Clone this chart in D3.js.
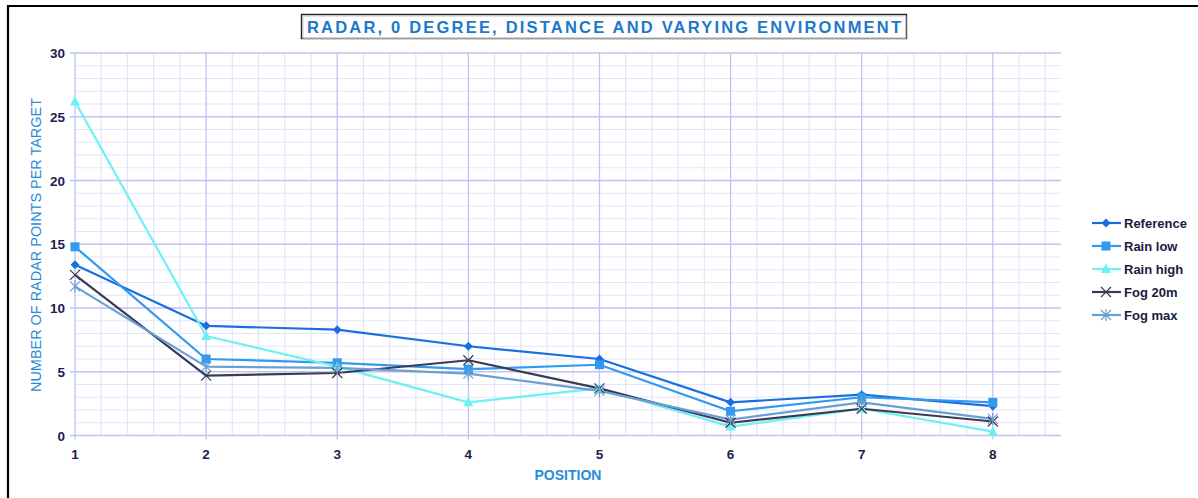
<!DOCTYPE html>
<html><head><meta charset="utf-8">
<script src="https://cdn.jsdelivr.net/npm/d3@7"></script>
<style>body{margin:0;background:#fff;} svg{display:block;font-family:"Liberation Sans",Arial,sans-serif;}</style>
</head><body><svg id="c" width="1198" height="498"></svg>
<script>
const positions = [1, 2, 3, 4, 5, 6, 7, 8];
const reference = [13.4, 8.6, 8.3, 7.0, 6.0, 2.6, 3.2, 2.3];
const rainLow   = [14.8, 6.0, 5.7, 5.2, 5.55, 1.9, 3.0, 2.6];
const rainHigh  = [26.2, 7.8, 5.4, 2.6, 3.7, 0.7, 2.1, 0.3];
const fog20m    = [12.6, 4.7, 4.9, 5.9, 3.7, 1.0, 2.1, 1.1];
const fogMax    = [11.7, 5.4, 5.3, 4.85, 3.5, 1.25, 2.6, 1.3];
const yTicks = [0, 5, 10, 15, 20, 25, 30];
const seriesNames = ["Reference", "Rain low", "Rain high", "Fog 20m", "Fog max"];

const series = [
  {name: seriesNames[0], values: reference, color: "#1a6fe0", marker: "diamond"},
  {name: seriesNames[1], values: rainLow,   color: "#3399ee", marker: "square"},
  {name: seriesNames[2], values: rainHigh,  color: "#6ef0f5", marker: "triangle"},
  {name: seriesNames[3], values: fog20m,    color: "#3a3a55", marker: "x"},
  {name: seriesNames[4], values: fogMax,    color: "#6a9fd4", marker: "star"}
];

const svg = d3.select("#c");
const x = d3.scaleLinear().domain([1, 8.52]).range([75, 1061]);
const y = d3.scaleLinear().domain([0, 30]).range([435.5, 53]);

// borders (top and left)
svg.append("line").attr("x1", 7).attr("x2", 1198).attr("y1", 6).attr("y2", 6).attr("stroke", "#000").attr("stroke-width", 2.2);
svg.append("line").attr("x1", 8).attr("x2", 8).attr("y1", 5).attr("y2", 498).attr("stroke", "#000").attr("stroke-width", 2.2);

const g = svg.append("g");
// minor grid
const minorX = d3.range(1, 8.5, 0.2).filter(v => Math.abs(v - Math.round(v)) > 1e-6);
g.selectAll(".mx").data(minorX).enter().append("line")
  .attr("x1", d => x(d)).attr("x2", d => x(d)).attr("y1", y(30)).attr("y2", y(0))
  .attr("stroke", "#e4e4fb").attr("stroke-width", 1.2);
const minorY = d3.range(0, 31, 1).filter(v => v % 5 !== 0);
g.selectAll(".my").data(minorY).enter().append("line")
  .attr("x1", x(1)).attr("x2", x(8.52)).attr("y1", d => y(d)).attr("y2", d => y(d))
  .attr("stroke", "#e4e4fb").attr("stroke-width", 1.2);
// major grid
g.selectAll(".Mx").data(positions).enter().append("line")
  .attr("x1", d => x(d)).attr("x2", d => x(d)).attr("y1", y(30)).attr("y2", y(0) + 4)
  .attr("stroke", "#c2c2f4").attr("stroke-width", 1.3);
g.selectAll(".My").data(yTicks).enter().append("line")
  .attr("x1", x(1) - 5).attr("x2", x(8.52)).attr("y1", d => y(d)).attr("y2", d => y(d))
  .attr("stroke", "#c2c2f4").attr("stroke-width", 1.3);

// tick labels
g.selectAll(".yl").data(yTicks).enter().append("text")
  .attr("x", 65).attr("y", d => y(d) + 5).attr("text-anchor", "end")
  .attr("font-size", 13.5).attr("font-weight", "bold").attr("fill", "#1c1c4e").text(d => d);
g.selectAll(".xl").data(positions).enter().append("text")
  .attr("x", d => x(d)).attr("y", 458.5).attr("text-anchor", "middle")
  .attr("font-size", 13.5).attr("font-weight", "bold").attr("fill", "#1c1c4e").text(d => d);

// axis titles
svg.append("text").attr("transform", "translate(41,245) rotate(-90)").attr("text-anchor", "middle")
  .attr("font-size", 14).attr("fill", "#2a8ad8").attr("textLength", 294).attr("lengthAdjust", "spacingAndGlyphs")
  .text("NUMBER OF RADAR  POINTS PER TARGET");
svg.append("text").attr("x", 568).attr("y", 480).attr("text-anchor", "middle")
  .attr("font-size", 14).attr("font-weight", "bold").attr("fill", "#2a8ad8")
  .attr("textLength", 67).attr("lengthAdjust", "spacingAndGlyphs").text("POSITION");

// title
svg.append("rect").attr("x", 301.5).attr("y", 14.5).attr("width", 605).attr("height", 24)
  .attr("fill", "#fff").attr("stroke", "#222").attr("stroke-width", 1.4);
svg.append("rect").attr("x", 303).attr("y", 16).attr("width", 603).attr("height", 22.5)
  .attr("fill", "none").attr("stroke", "#bbb").attr("stroke-width", 0.8);
svg.append("text").attr("x", 604).attr("y", 33).attr("text-anchor", "middle")
  .attr("font-size", 16.5).attr("font-weight", "bold").attr("fill", "#1e78c8")
  .attr("textLength", 594).attr("lengthAdjust", "spacing")
  .text("RADAR, 0 DEGREE, DISTANCE AND VARYING ENVIRONMENT");

function drawMarker(sel, type, color) {
  if (type === "diamond") {
    sel.append("path").attr("d", "M0,-4.5L4.5,0L0,4.5L-4.5,0Z").attr("fill", color);
  } else if (type === "square") {
    sel.append("rect").attr("x", -4.5).attr("y", -4.5).attr("width", 9).attr("height", 9).attr("fill", color);
  } else if (type === "triangle") {
    sel.append("path").attr("d", "M0,-5.5L5,4L-5,4Z").attr("fill", color);
  } else if (type === "x") {
    sel.append("path").attr("d", "M-5,-5L5,5M-5,5L5,-5").attr("stroke", color).attr("stroke-width", 1.2).attr("fill", "none");
  } else if (type === "star") {
    sel.append("path").attr("d", "M-5,-5L5,5M-5,5L5,-5M0,-6L0,6").attr("stroke", color).attr("stroke-width", 1.2).attr("fill", "none");
  }
}

const line = d3.line().x((d, i) => x(positions[i])).y(d => y(d));
series.forEach(s => {
  svg.append("path").datum(s.values).attr("d", line).attr("fill", "none")
    .attr("stroke", s.color).attr("stroke-width", 2.2).attr("stroke-linejoin", "round");
});
series.forEach(s => {
  s.values.forEach((v, i) => {
    const m = svg.append("g").attr("transform", `translate(${x(positions[i])},${y(v)})`);
    drawMarker(m, s.marker, s.color);
  });
});

// legend
const lg = svg.append("g");
series.forEach((s, i) => {
  const yy = 223 + i * 23;
  lg.append("line").attr("x1", 1092).attr("x2", 1121).attr("y1", yy).attr("y2", yy)
    .attr("stroke", s.color).attr("stroke-width", 2.2);
  const m = lg.append("g").attr("transform", `translate(1106,${yy})`);
  drawMarker(m, s.marker, s.color);
  lg.append("text").attr("x", 1124).attr("y", yy + 4.5).attr("font-size", 13)
    .attr("font-weight", "bold").attr("fill", "#1a1a40").text(s.name);
});
</script></body></html>
